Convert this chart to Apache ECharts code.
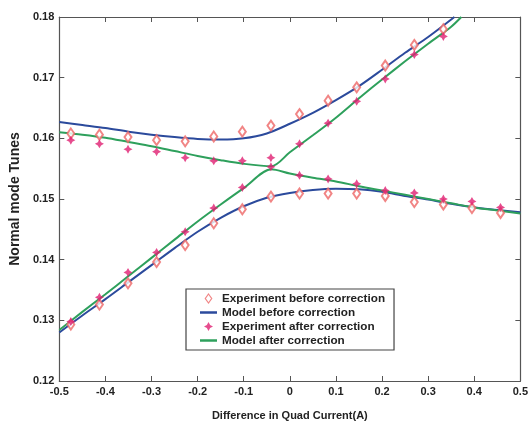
<!DOCTYPE html>
<html>
<head>
<meta charset="utf-8">
<script src="https://cdn.jsdelivr.net/npm/echarts@6/dist/echarts.min.js"></script>
<style>
  html, body { margin: 0; padding: 0; background: #fff; }
  #chart { width: 531px; height: 426px; }
</style>
</head>
<body>
<div id="chart"></div>
<script>
// experiment currents (A) and measured tunes
const expX = [-0.475, -0.413, -0.351, -0.289, -0.227, -0.165, -0.103, -0.041,
  0.021, 0.083, 0.145, 0.207, 0.27, 0.333, 0.395, 0.457];
const expBeforeUpper = [0.1608, 0.1606, 0.1602, 0.1597, 0.1595, 0.1603, 0.1611, 0.1621,
  0.1640, 0.1662, 0.1684, 0.1720, 0.1754, 0.1780];
const expBeforeLower = [0.1293, 0.1326, 0.1361, 0.1396, 0.1424, 0.1460, 0.1483, 0.1504,
  0.1509, 0.1509, 0.1509, 0.1505, 0.1495, 0.1491, 0.1485, 0.1477];
const expAfterUpper = [0.1597, 0.1591, 0.1582, 0.1578, 0.1568, 0.1563, 0.1563, 0.1568,
  0.1591, 0.1625, 0.1661, 0.1698, 0.1738, 0.1768];
const expAfterLower = [0.1298, 0.1338, 0.1379, 0.1412, 0.1446, 0.1485, 0.1519, 0.1553,
  0.1539, 0.1533, 0.1525, 0.1514, 0.1510, 0.1500, 0.1496, 0.1486];

// model curves
const modelX = [-0.5, -0.45, -0.4, -0.35, -0.3, -0.25, -0.2, -0.15, -0.1, -0.05,
  0, 0.05, 0.1, 0.15, 0.2, 0.25, 0.3, 0.35, 0.4, 0.45, 0.5];
const beforeUpperX = [-0.5, -0.45, -0.4, -0.35, -0.3, -0.25, -0.2, -0.15, -0.1, -0.05,
  0, 0.05, 0.1, 0.15, 0.2, 0.25, 0.3, 0.357];
const beforeUpper = [0.1627, 0.1622, 0.1617, 0.1611, 0.1606, 0.1602, 0.1599, 0.1598, 0.1600, 0.1608,
  0.1624, 0.1642, 0.1663, 0.1686, 0.1713, 0.1741, 0.1767, 0.18];
const beforeLower = [0.1280, 0.1308, 0.1335, 0.1363, 0.1391, 0.1419, 0.1446, 0.1469, 0.1488, 0.1502,
  0.1510, 0.1515, 0.1517, 0.1516, 0.1512, 0.1505, 0.1499, 0.1492, 0.1486, 0.1482, 0.1478];
const afterUpperX = [-0.5, -0.45, -0.4, -0.35, -0.3, -0.25, -0.2, -0.15, -0.1, -0.04,
  0, 0.05, 0.1, 0.15, 0.2, 0.25, 0.3, 0.35, 0.372];
const afterUpper = [0.1610, 0.1606, 0.1601, 0.1594, 0.1587, 0.1579, 0.1571, 0.1564, 0.1558, 0.1554,
  0.1577, 0.1605, 0.1634, 0.1666, 0.1697, 0.1727, 0.1756, 0.1784, 0.18];
const afterLowerX = [-0.5, -0.45, -0.4, -0.35, -0.3, -0.25, -0.2, -0.15, -0.1, -0.04,
  0, 0.05, 0.1, 0.15, 0.2, 0.25, 0.3, 0.35, 0.4, 0.45, 0.5];
const afterLower = [0.1284, 0.1314, 0.1343, 0.1373, 0.1403, 0.1433, 0.1463, 0.1491, 0.1518, 0.1549,
  0.1542, 0.1535, 0.1529, 0.1521, 0.1514, 0.1507, 0.1500, 0.1493, 0.1486, 0.1481, 0.1476];

const names = ["Experiment before correction", "Model before correction",
  "Experiment after correction", "Model after correction"];

const zip = (xs, ys) => ys.map((y, i) => [xs[i], y]);

const diamondPath = "path://M5,0L10,7L5,14L0,7Z";
const starPath = "path://M0,-5L1.8,-1.8L5,0L1.8,1.8L0,5L-1.8,1.8L-5,0L-1.8,-1.8Z";
const barPath = "path://M0,0L34,0L34,5L0,5Z";
const font = "Liberation Sans";
const blue = "#2b4a9c", green = "#2ea05c", salmon = "#ee6666", magenta = "#e01f72";

const chart = echarts.init(document.getElementById("chart"));

const axisCommon = {
  axisLine: { show: true, onZero: false, lineStyle: { color: "#555", width: 1.2 } },
  axisTick: { show: true, inside: true, length: 5, lineStyle: { color: "#555" } },
  splitLine: { show: false }
};

const lineSeries = (name, xs, ys, color) => ({
  name: name,
  type: "line",
  data: zip(xs, ys),
  symbol: "none",
  smooth: 0.3,
  lineStyle: { color: color, width: 2 },
  itemStyle: { color: color },
  z: 2
});

const option = {
  animation: false,
  grid: { left: 57, right: 6, top: 17, bottom: 43, containLabel: false },
  legend: {
    orient: "vertical",
    left: 186,
    top: 289,
    data: [
      { name: names[0], icon: diamondPath, itemStyle: { color: "#fff", borderColor: salmon, borderWidth: 1.2 } },
      { name: names[1], icon: barPath, itemStyle: { color: blue, borderWidth: 0 } },
      { name: names[2], icon: starPath, itemStyle: { color: magenta } },
      { name: names[3], icon: barPath, itemStyle: { color: green, borderWidth: 0 } }
    ],
    itemWidth: 17,
    itemHeight: 9,
    itemGap: 1,
    padding: [3, 9, 3, 14],
    borderColor: "#444",
    borderWidth: 1.2,
    borderRadius: 0,
    backgroundColor: "#fff",
    textStyle: { fontFamily: font, fontWeight: "bold", fontSize: 11.7, lineHeight: 13, color: "#222" }
  },
  xAxis: [
    Object.assign({
      type: "value", min: -0.5, max: 0.5, interval: 0.1,
      position: "bottom",
      name: "Difference in Quad Current(A)",
      nameLocation: "middle",
      nameGap: 29,
      nameTextStyle: { fontFamily: font, fontWeight: "bold", fontSize: 11, color: "#222" },
      axisLabel: {
        fontFamily: font, fontWeight: "bold", fontSize: 11, color: "#222", margin: 5,
        formatter: v => Math.abs(v) < 1e-9 ? "0" : v.toFixed(1)
      }
    }, axisCommon),
    Object.assign({
      type: "value", min: -0.5, max: 0.5, interval: 0.1,
      position: "top",
      axisLabel: { show: false }
    }, axisCommon)
  ],
  yAxis: [
    Object.assign({
      type: "value", min: 0.12, max: 0.18, interval: 0.01,
      position: "left",
      name: "Normal mode Tunes",
      nameLocation: "middle",
      nameGap: 33,
      nameTextStyle: { fontFamily: font, fontWeight: "bold", fontSize: 14, color: "#222" },
      axisLabel: {
        fontFamily: font, fontWeight: "bold", fontSize: 11, color: "#222", margin: 5,
        formatter: v => v.toFixed(2)
      }
    }, axisCommon),
    Object.assign({
      type: "value", min: 0.12, max: 0.18, interval: 0.01,
      position: "right",
      axisLabel: { show: false }
    }, axisCommon)
  ],
  series: [
    {
      name: names[0], type: "scatter",
      data: zip(expX, expBeforeUpper).concat(zip(expX, expBeforeLower)),
      symbol: "emptyDiamond", symbolSize: [7, 10],
      itemStyle: { color: salmon, borderWidth: 1 },
      z: 3
    },
    lineSeries(names[1], beforeUpperX, beforeUpper, blue),
    lineSeries(names[1], modelX, beforeLower, blue),
    {
      name: names[2], type: "scatter",
      data: zip(expX, expAfterUpper).concat(zip(expX, expAfterLower)),
      symbol: starPath, symbolSize: 9,
      itemStyle: { color: magenta },
      z: 4
    },
    lineSeries(names[3], afterUpperX, afterUpper, green),
    lineSeries(names[3], afterLowerX, afterLower, green)
  ]
};

chart.setOption(option);
</script>
</body>
</html>
